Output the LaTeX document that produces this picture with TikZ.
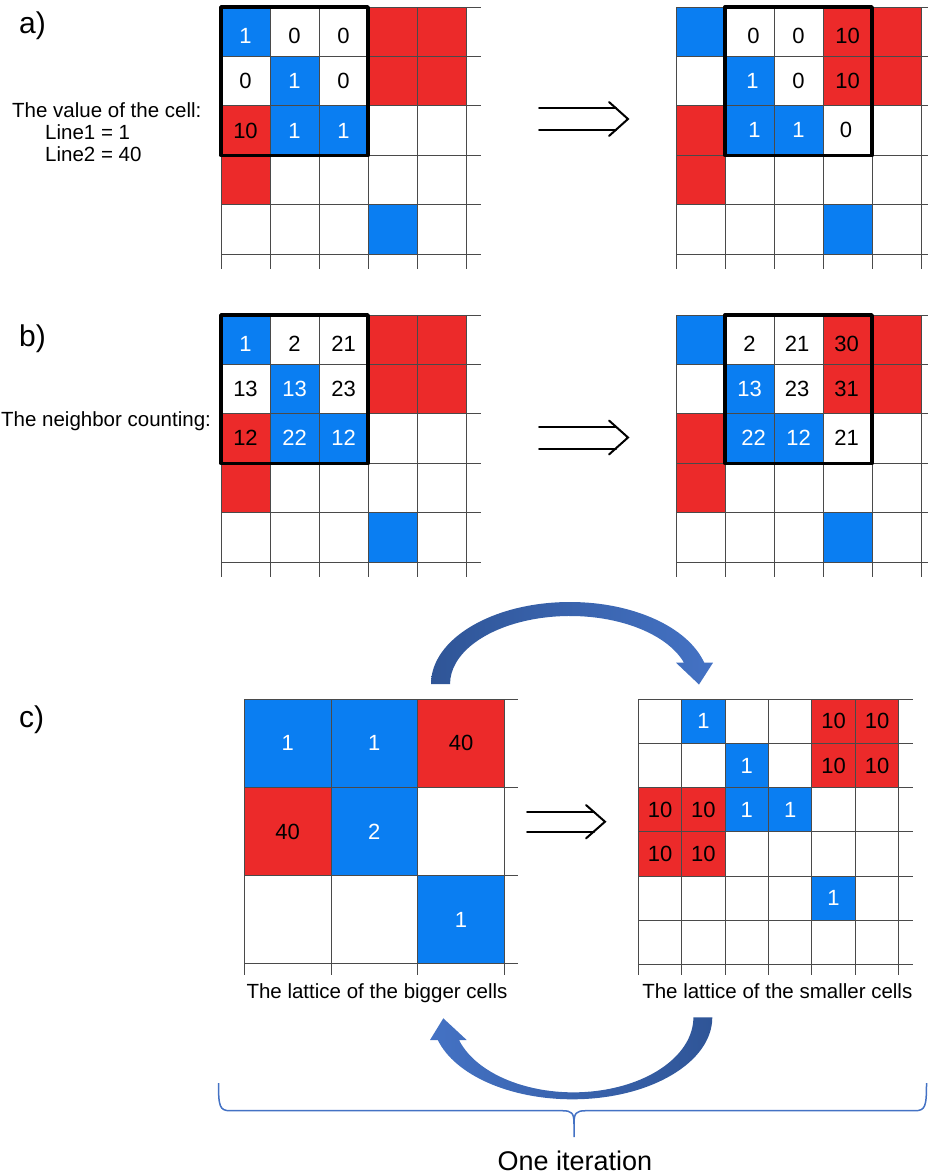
\documentclass[tikz,border=0pt]{standalone}
\usepackage{fontspec}
\setmainfont{Liberation Sans}
\definecolor{cblue}{HTML}{0A7EF2}
\definecolor{cred}{HTML}{EC2A2A}
\definecolor{adark}{HTML}{2F5597}
\definecolor{alight}{HTML}{4472C4}
\definecolor{gline}{HTML}{4A4A4A}
\newcommand{\cfill}[7]{\fill[#7] ({#1+#5*#3},{#2+#6*#4}) rectangle ({#1+(#5+1)*#3},{#2+(#6+1)*#4});}
\newcommand{\glines}[8]{%
  \foreach \i in {0,...,#5} {\draw[gridline] ({#1+\i*#3},#2) -- ({#1+\i*#3},#8);}
  \foreach \j in {0,...,#6} {\draw[gridline] (#1,{#2+\j*#4}) -- (#7,{#2+\j*#4});}}
\newcommand{\cellpattern}[4]{%
  \cfill{#1}{#2}{#3}{#4}{0}{0}{bluecell}
  \cfill{#1}{#2}{#3}{#4}{3}{0}{redcell}
  \cfill{#1}{#2}{#3}{#4}{4}{0}{redcell}
  \cfill{#1}{#2}{#3}{#4}{1}{1}{bluecell}
  \cfill{#1}{#2}{#3}{#4}{3}{1}{redcell}
  \cfill{#1}{#2}{#3}{#4}{4}{1}{redcell}
  \cfill{#1}{#2}{#3}{#4}{0}{2}{redcell}
  \cfill{#1}{#2}{#3}{#4}{1}{2}{bluecell}
  \cfill{#1}{#2}{#3}{#4}{2}{2}{bluecell}
  \cfill{#1}{#2}{#3}{#4}{0}{3}{redcell}
  \cfill{#1}{#2}{#3}{#4}{3}{4}{bluecell}}
\begin{document}
\begin{tikzpicture}[x=1pt,y=-1pt,
  num/.style={font=\fontsize{22}{26}\selectfont, inner sep=0pt},
  wnum/.style={num, text=white},
  bnum/.style={num, text=black},
  lbl/.style={font=\fontsize{20.5}{24}\selectfont, inner sep=0pt},
  panel/.style={font=\fontsize{30}{34}\selectfont, inner sep=0pt},
  gridline/.style={draw=gline, line width=0.9pt},
  boldbox/.style={draw=black, line width=3.4pt, line join=round},
  implies/.style={line width=2pt, line cap=round, line join=miter},
  bluecell/.style={fill=cblue},
  redcell/.style={fill=cred},
  bracestyle/.style={draw=alight, line width=1.5pt, line join=round},
]
\useasboundingbox (0,0) rectangle (928,1175);

% ---------- panel a ----------
\cellpattern{221}{7}{49}{49.4}
\glines{221}{7}{49}{49.4}{5}{5}{481}{269}
\cellpattern{676}{7}{49}{49.4}
\glines{676}{7}{49}{49.4}{5}{5}{928}{269}
\draw[boldbox] (221,7) rectangle (368,155.2);
\draw[boldbox] (725,7) rectangle (872,155.2);

\node[wnum] (aL00) at (245.5,35.5) {1};
\node[bnum] (aL01) at (294.5,35.5) {0};
\node[bnum] (aL02) at (343.5,35.5) {0};
\node[bnum] (aL10) at (245.5,80.5) {0};
\node[wnum] (aL11) at (294.5,80.5) {1};
\node[bnum] (aL12) at (343.5,80.5) {0};
\node[bnum] (aL20) at (245.5,130.5) {10};
\node[wnum] (aL21) at (294.5,130.5) {1};
\node[wnum] (aL22) at (343.5,130.5) {1};

\node[bnum] (aR01) at (753.5,35.5) {0};
\node[bnum] (aR02) at (798.5,35.5) {0};
\node[bnum] (aR03) at (847.5,35.5) {10};
\node[wnum] (aR11) at (752.5,80.5) {1};
\node[bnum] (aR12) at (798.5,80.5) {0};
\node[bnum] (aR13) at (847.5,80.5) {10};
\node[wnum] (aR21) at (754.5,129.5) {1};
\node[wnum] (aR22) at (798.5,129.5) {1};
\node[bnum] (aR23) at (846,129.5) {0};

\node[panel, anchor=base west] (la) at (19,33.5) {a)};
\node[lbl, anchor=base west] (ta1) at (12,117.5) {The value of the cell:};
\node[lbl, anchor=base west] (ta2) at (45,139.3) {Line1 = 1};
\node[lbl, anchor=base west] (ta3) at (45,161) {Line2 = 40};

\draw[implies] (539,108) -- (616,108);
\draw[implies] (539,130) -- (616,130);
\draw[implies] (609,102) -- (628,119) -- (609,136);

% ---------- panel b ----------
\cellpattern{221}{315}{49}{49.4}
\glines{221}{315}{49}{49.4}{5}{5}{481}{577}
\cellpattern{676}{315}{49}{49.4}
\glines{676}{315}{49}{49.4}{5}{5}{928}{577}
\draw[boldbox] (221,315) rectangle (368,463.2);
\draw[boldbox] (725,315) rectangle (872,463.2);

\node[wnum] (bL00) at (245.5,343.5) {1};
\node[bnum] (bL01) at (294.5,343.5) {2};
\node[bnum] (bL02) at (343.5,343.5) {21};
\node[bnum] (bL10) at (245.5,389) {13};
\node[wnum] (bL11) at (294.5,389) {13};
\node[bnum] (bL12) at (343.5,389) {23};
\node[bnum] (bL20) at (245.5,438) {12};
\node[wnum] (bL21) at (294.5,438) {22};
\node[wnum] (bL22) at (343.5,438) {12};

\node[bnum] (bR01) at (749.5,343.5) {2};
\node[bnum] (bR02) at (797,343.5) {21};
\node[bnum] (bR03) at (846.5,343.5) {30};
\node[wnum] (bR11) at (749.5,389) {13};
\node[bnum] (bR12) at (797,389) {23};
\node[bnum] (bR13) at (846.5,389) {31};
\node[wnum] (bR21) at (753.5,438) {22};
\node[wnum] (bR22) at (798.5,438) {12};
\node[bnum] (bR23) at (846.5,438) {21};

\node[panel, anchor=base west] (lb) at (19,346) {b)};
\node[lbl, anchor=base west] (tb1) at (1,426.7) {The neighbor counting:};

\draw[implies] (539,426.5) -- (616,426.5);
\draw[implies] (539,448.5) -- (616,448.5);
\draw[implies] (609,420.5) -- (628,437.5) -- (609,454.5);

% ---------- panel c ----------
\cfill{244.3}{699.3}{86.7}{88.2}{0}{0}{bluecell}
\cfill{244.3}{699.3}{86.7}{88.2}{1}{0}{bluecell}
\cfill{244.3}{699.3}{86.7}{88.2}{2}{0}{redcell}
\cfill{244.3}{699.3}{86.7}{88.2}{0}{1}{redcell}
\cfill{244.3}{699.3}{86.7}{88.2}{1}{1}{bluecell}
\cfill{244.3}{699.3}{86.7}{88.2}{2}{2}{bluecell}
\glines{244.3}{699.3}{86.7}{88.2}{3}{3}{518}{975}

\node[wnum] (cB00) at (287.65,743.4) {1};
\node[wnum] (cB01) at (374.35,743.4) {1};
\node[bnum] (cB02) at (461.05,743.4) {40};
\node[bnum] (cB10) at (287.65,832) {40};
\node[wnum] (cB11) at (374.35,832) {2};
\node[wnum] (cB22) at (461.05,919.8) {1};

\cfill{638.3}{699.3}{43.4}{44.17}{1}{0}{bluecell}
\cfill{638.3}{699.3}{43.4}{44.17}{4}{0}{redcell}
\cfill{638.3}{699.3}{43.4}{44.17}{5}{0}{redcell}
\cfill{638.3}{699.3}{43.4}{44.17}{2}{1}{bluecell}
\cfill{638.3}{699.3}{43.4}{44.17}{4}{1}{redcell}
\cfill{638.3}{699.3}{43.4}{44.17}{5}{1}{redcell}
\cfill{638.3}{699.3}{43.4}{44.17}{0}{2}{redcell}
\cfill{638.3}{699.3}{43.4}{44.17}{1}{2}{redcell}
\cfill{638.3}{699.3}{43.4}{44.17}{2}{2}{bluecell}
\cfill{638.3}{699.3}{43.4}{44.17}{3}{2}{bluecell}
\cfill{638.3}{699.3}{43.4}{44.17}{0}{3}{redcell}
\cfill{638.3}{699.3}{43.4}{44.17}{1}{3}{redcell}
\cfill{638.3}{699.3}{43.4}{44.17}{4}{4}{bluecell}
\glines{638.3}{699.3}{43.4}{44.17}{6}{6}{912.7}{975}

\node[wnum] (cS01) at (703.4,721.4) {1};
\node[bnum] (cS04) at (833.6,721.4) {10};
\node[bnum] (cS05) at (877,721.4) {10};
\node[wnum] (cS12) at (746.8,765.6) {1};
\node[bnum] (cS14) at (833.6,765.6) {10};
\node[bnum] (cS15) at (877,765.6) {10};
\node[bnum] (cS20) at (660,809.7) {10};
\node[bnum] (cS21) at (703.4,809.7) {10};
\node[wnum] (cS22) at (746.8,809.7) {1};
\node[wnum] (cS23) at (790.2,809.7) {1};
\node[bnum] (cS30) at (660,853.9) {10};
\node[bnum] (cS31) at (703.4,853.9) {10};
\node[wnum] (cS44) at (833.6,898.1) {1};

\node[panel, anchor=base west] (lc) at (19,727) {c)};
\node[lbl, anchor=base] (capL) at (377,998.3) {The lattice of the bigger cells};
\node[lbl, anchor=base] (capR) at (777.3,998.3) {The lattice of the smaller cells};

\draw[implies] (527,811.7) -- (594,811.7);
\draw[implies] (527,831.7) -- (594,831.7);
\draw[implies] (586,805) -- (605,821.7) -- (586,838.4);

% curved arrows
\shade[left color=adark, right color=alight]
  (431,684) arc[start angle=180, end angle=15.06, x radius=139pt, y radius=82pt]
  -- (713,662.7) -- (699,684.5) -- (676,662.7) -- (684,662.7)
  arc[start angle=18.25, end angle=180, x radius=120pt, y radius=68pt] -- cycle;
\shade[left color=alight, right color=adark]
  (712.3,1017.3) arc[start angle=0, end angle=-163.9, x radius=140pt, y radius=82pt]
  -- (430,1040) -- (443.3,1018.3) -- (466.7,1040) -- (459,1040)
  arc[start angle=-162.4, end angle=0, x radius=120pt, y radius=75pt] -- cycle;

% brace
\draw[bracestyle] (218.5,1083) .. controls (218.5,1106) and (219.5,1110.7) .. (230,1110.7)
  -- (562,1110.7) .. controls (572,1110.7) and (574,1113) .. (574,1124) -- (574,1137);
\draw[bracestyle] (574,1124) .. controls (574,1113) and (576,1110.7) .. (586,1110.7)
  -- (915,1110.7) .. controls (925.5,1110.7) and (926.5,1106) .. (926.5,1083);
\node[font=\fontsize{27}{30}\selectfont, inner sep=0pt, anchor=base] (oneit) at (575,1170) {One iteration};
\end{tikzpicture}
\end{document}
